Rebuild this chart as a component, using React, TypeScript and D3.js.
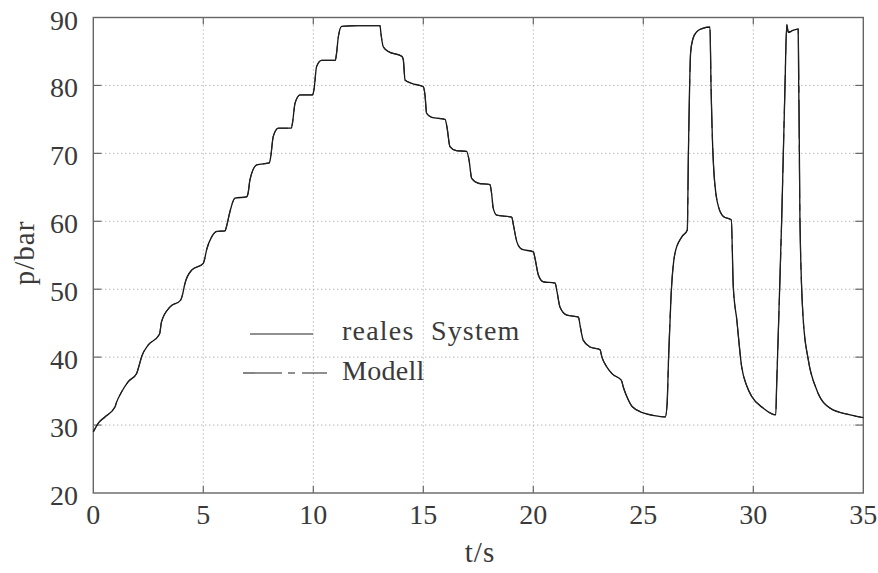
import React from "react";
import * as d3 from "d3";

// time stamps (s)
const timeS: number[] = [
  0, 0.23, 0.53, 0.99, 1.05, 1.29, 1.59, 1.97, 2.05, 2.2, 2.5, 2.95, 3.02, 3.1, 3.49, 3.97,
  4.04, 4.17, 4.47, 5.0, 5.05, 5.15, 5.38, 5.61, 5.99, 6.06, 6.21, 6.44, 6.97, 7.04, 7.12,
  7.43, 8.0, 8.06, 8.18, 8.41, 9.0, 9.06, 9.17, 9.4, 9.97, 10.04, 10.15, 10.38, 11.0, 11.06,
  11.14, 11.29, 12.0, 13.03, 13.08, 13.18, 13.41, 14.02, 14.09, 14.17, 14.47, 15.0, 15.08,
  15.15, 15.38, 15.99, 16.08, 16.21, 16.5, 16.97, 17.08, 17.2, 17.5, 18.03, 18.1, 18.18,
  18.34, 19.02, 19.1, 19.25, 19.47, 20.0, 20.08, 20.23, 20.45, 20.99, 21.08, 21.21, 21.52,
  22.05, 22.13, 22.27, 22.58, 23.03, 23.12, 23.33, 23.6, 24.0, 24.1, 24.25, 24.5, 25.0,
  25.5, 26.0, 26.08, 26.15, 26.26, 26.44, 26.75, 27.0, 27.05, 27.1, 27.15, 27.25, 27.43,
  27.7, 28.03, 28.08, 28.18, 28.36, 28.64, 29.0, 29.09, 29.25, 29.47, 29.7, 29.93, 30.45,
  31.02, 31.06, 31.29, 31.44, 31.52, 31.59, 31.8, 32.04, 32.12, 32.27, 32.5, 32.88, 33.49,
  34.4, 35.0,
];

// pressure of the real system (bar)
const realP: number[] = [
  29.0, 30.3, 31.2, 32.7, 33.3, 34.9, 36.4, 37.6, 38.4, 40.1, 41.8, 43.1, 43.5, 45.2, 47.4, 48.4,
  49.0, 50.9, 52.8, 53.8, 54.3, 55.8, 57.7, 58.5, 58.6, 59.3, 61.4, 63.4, 63.6, 64.2, 66.1,
  68.3, 68.6, 69.4, 72.5, 73.7, 73.7, 74.6, 77.4, 78.6, 78.6, 79.6, 82.8, 83.7, 83.7, 84.8,
  87.2, 88.7, 88.8, 88.8, 87.5, 85.7, 85.0, 84.3, 83.8, 80.8, 80.3, 79.8, 78.5,
  75.9, 75.3, 75.0, 73.8, 71.0, 70.4, 70.3, 69.0, 66.3, 65.6, 65.4, 64.2, 61.9,
  60.9, 60.6, 59.4, 57.0, 55.9, 55.5, 54.5, 52.1, 51.1, 50.9, 49.6, 47.4, 46.2,
  45.9, 44.6, 42.5, 41.5, 41.1, 40.0, 38.6, 37.5, 36.6, 35.5, 34.2, 32.7, 31.8,
  31.4, 31.2, 33.0, 40.0, 48.9, 55.3, 57.7, 58.7, 70.0, 79.0, 84.8, 86.8, 87.9,
  88.4, 88.6, 79.8, 69.0, 62.9, 60.7, 60.2, 50.4, 45.5, 38.6, 35.8, 34.2, 32.5,
  31.5, 35.7, 60.2, 79.8, 89.0, 87.8, 88.1, 88.3, 60.2, 45.5, 39.6, 35.2, 32.5,
  31.5, 31.1,
];

// pressure of the model (bar)
const modelP: number[] = [
  29.0, 30.3, 31.2, 32.7, 33.3, 34.9, 36.4, 37.6, 38.4, 40.1, 41.8, 43.1, 43.5, 45.2, 47.4, 48.4,
  49.0, 50.9, 52.8, 53.8, 54.3, 55.8, 57.7, 58.5, 58.6, 59.3, 61.4, 63.4, 63.6, 64.2, 66.1,
  68.3, 68.6, 69.4, 72.5, 73.7, 73.7, 74.6, 77.4, 78.6, 78.6, 79.6, 82.8, 83.7, 83.7, 84.8,
  87.2, 88.7, 88.8, 88.8, 87.5, 85.7, 85.0, 84.3, 83.8, 80.8, 80.3, 79.8, 78.5,
  75.9, 75.3, 75.0, 73.8, 71.0, 70.4, 70.3, 69.0, 66.3, 65.6, 65.4, 64.2, 61.9,
  60.9, 60.6, 59.4, 57.0, 55.9, 55.5, 54.5, 52.1, 51.1, 50.9, 49.6, 47.4, 46.2,
  45.9, 44.6, 42.5, 41.5, 41.1, 40.0, 38.6, 37.5, 36.6, 35.5, 34.2, 32.7, 31.8,
  31.4, 31.2, 33.0, 40.0, 48.9, 55.3, 57.7, 58.7, 70.0, 79.0, 84.8, 86.8, 87.9,
  88.4, 88.6, 79.8, 69.0, 62.9, 60.7, 60.2, 50.4, 45.5, 38.6, 35.8, 34.2, 32.5,
  31.5, 35.7, 60.2, 79.8, 88.9, 87.9, 88.1, 88.3, 60.2, 45.5, 39.6, 35.2, 32.5,
  31.5, 31.1,
];

const xTicks: number[] = [0, 5, 10, 15, 20, 25, 30, 35];
const yTicks: number[] = [20, 30, 40, 50, 60, 70, 80, 90];
const legendLabels: string[] = ["reales  System", "Modell"];
const xLabel = "t/s";
const yLabel = "p/bar";

const W = 878;
const H = 573;
const L = 93.3;
const R = 863.3;
const T = 17.5;
const B = 493;

export default function App() {
  const x = d3.scaleLinear().domain([0, 35]).range([L, R]);
  const y = d3.scaleLinear().domain([20, 90]).range([B, T]);

  const realData = timeS.map((t, i) => [t, realP[i]] as [number, number]);
  const modelData = timeS.map((t, i) => [t, modelP[i]] as [number, number]);
  const line = d3
    .line<[number, number]>()
    .x((d) => x(d[0]))
    .y((d) => y(d[1]))
    .curve(d3.curveMonotoneX);

  const font = "Liberation Serif";
  const textColor = "#3a3a3a";
  const gridColor = "#999";
  const frameColor = "#666";
  const txt = { fontFamily: font } as React.CSSProperties;

  return (
    <svg
      width={W}
      height={H}
      style={{ position: "absolute", left: 0, top: 0, background: "#fff" }}
    >
      <rect x={0} y={0} width={W} height={H} fill="#fff" />
      {/* grid */}
      {xTicks.slice(1, -1).map((t) => (
        <line
          key={"gx" + t}
          x1={x(t)}
          x2={x(t)}
          y1={T}
          y2={B}
          stroke={gridColor}
          strokeWidth={1}
          strokeDasharray="1,3"
        />
      ))}
      {yTicks.slice(1, -1).map((v) => (
        <line
          key={"gy" + v}
          x1={L}
          x2={R}
          y1={y(v)}
          y2={y(v)}
          stroke={gridColor}
          strokeWidth={1}
          strokeDasharray="1,3"
        />
      ))}
      {/* ticks */}
      {xTicks.slice(1, -1).map((t) => (
        <g key={"tx" + t}>
          <line x1={x(t)} x2={x(t)} y1={B} y2={B - 7} stroke={frameColor} strokeWidth={1.2} />
          <line x1={x(t)} x2={x(t)} y1={T} y2={T + 7} stroke={frameColor} strokeWidth={1.2} />
        </g>
      ))}
      {yTicks.slice(1, -1).map((v) => (
        <g key={"ty" + v}>
          <line x1={L} x2={L + 8} y1={y(v)} y2={y(v)} stroke={frameColor} strokeWidth={1.2} />
          <line x1={R} x2={R - 8} y1={y(v)} y2={y(v)} stroke={frameColor} strokeWidth={1.2} />
        </g>
      ))}
      {/* frame */}
      <rect x={L} y={T} width={R - L} height={B - T} fill="none" stroke={frameColor} strokeWidth={1.4} />
      {/* data */}
      <path d={line(realData) || ""} fill="none" stroke="#111" strokeWidth={1.3} />
      <path
        d={line(modelData) || ""}
        fill="none"
        stroke="#222"
        strokeWidth={1.1}
        strokeDasharray="39,6,7,7"
      />
      {/* tick labels */}
      {xTicks.map((t) => (
        <text
          key={"lx" + t}
          x={x(t)}
          y={524}
          textAnchor="middle"
          fontSize={28}
          fill={textColor}
          style={txt}
        >
          {t}
        </text>
      ))}
      {yTicks.map((v) => (
        <text
          key={"ly" + v}
          x={78}
          y={y(v) + 12}
          textAnchor="end"
          fontSize={28}
          fill={textColor}
          style={txt}
        >
          {v}
        </text>
      ))}
      {/* axis labels */}
      <text x={480} y={562} textAnchor="middle" fontSize={29} fill={textColor} style={{ ...txt, letterSpacing: 1 }}>
        {xLabel}
      </text>
      <text
        transform="translate(34,253) rotate(-90)"
        textAnchor="middle"
        fontSize={29}
        fill={textColor}
        style={{ ...txt, letterSpacing: 1 }}
      >
        {yLabel}
      </text>
      {/* legend */}
      <line x1={250} x2={313} y1={334} y2={334} stroke="#222" strokeWidth={1.1} />
      <line
        x1={243}
        x2={327}
        y1={373}
        y2={373}
        stroke="#222"
        strokeWidth={1.1}
        strokeDasharray="39,6,7,7"
      />
      <text x={342} y={340} fontSize={28} fill={textColor} style={{ ...txt, whiteSpace: "pre", letterSpacing: 1.2 }}>
        {legendLabels[0]}
      </text>
      <text x={342} y={380} fontSize={28} fill={textColor} style={{ ...txt, whiteSpace: "pre", letterSpacing: 0.3 }}>
        {legendLabels[1]}
      </text>
    </svg>
  );
}
